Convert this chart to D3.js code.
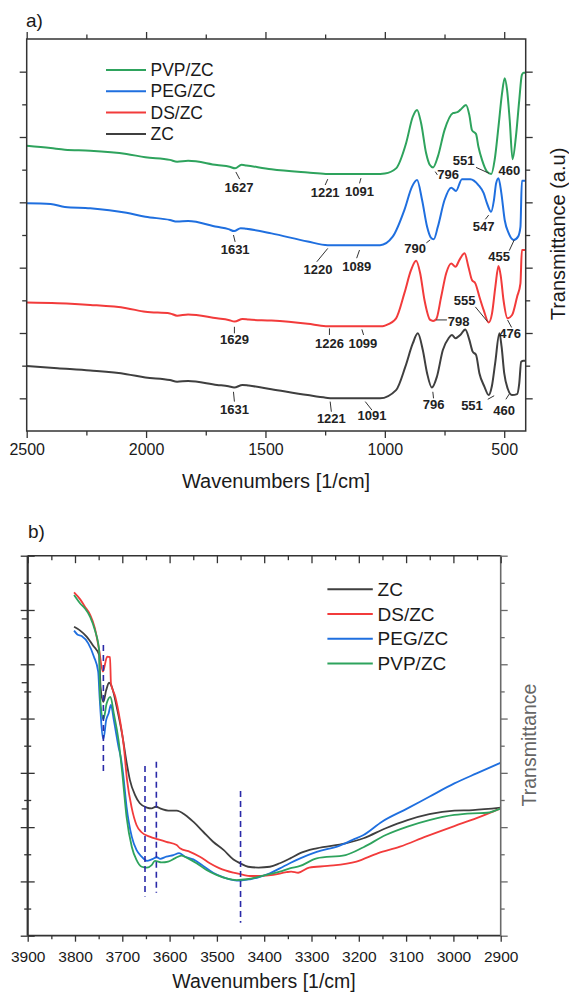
<!DOCTYPE html>
<html lang="en">
<head>
<meta charset="UTF-8">
<title>FTIR spectra</title>
<script src="https://cdn.jsdelivr.net/npm/d3@7"></script>
<style>
  body { margin: 0; background: #fff; }
  svg { font-family: "Liberation Sans", Arial, sans-serif; }
</style>
</head>
<body>
<svg width="569" height="994"></svg>
<script>
// ---- panel a: [wavenumber, transmittance (a.u., stacked)] ----
const pvpA = [[2500,8.73],[2400,8.66],[2340,8.61],[2234,8.58],[2082,8.48],[2003,8.38],[1900,8.30],[1870,8.24],[1824,8.27],[1703,8.14],[1650,8.09],[1627,8.04],[1600,8.15],[1580,8.13],[1475,8.01],[1323,7.91],[1247,7.87],[1019,7.87],[1000,7.88],[953,8.04],[911,8.81],[883,9.62],[865,9.83],[848,9.42],[827,8.50],[812,8.15],[798,8.07],[778,8.40],[750,9.21],[715,9.73],[696,9.76],[684,9.83],[660,9.98],[646,9.67],[635,9.21],[618,9.09],[608,8.70],[593,8.30],[572,7.94],[554,7.87],[540,8.30],[524,9.32],[509,10.34],[498,10.80],[488,10.44],[477,9.52],[465,8.32],[451,9.01],[437,10.13],[426,10.90],[419,10.97],[410,10.97]];
const pegA = [[2500,6.97],[2400,6.95],[2340,6.86],[2234,6.82],[2082,6.68],[2003,6.56],[1900,6.46],[1870,6.41],[1824,6.43],[1703,6.25],[1655,6.18],[1631,6.12],[1604,6.21],[1580,6.19],[1475,6.05],[1323,5.80],[1239,5.69],[1020,5.69],[967,5.95],[918,6.77],[886,7.48],[865,7.68],[844,7.07],[823,6.25],[808,5.93],[795,5.87],[778,6.25],[750,7.07],[722,7.45],[702,7.35],[677,7.71],[642,7.71],[608,7.53],[586,7.28],[572,6.97],[555,6.71],[543,7.07],[534,7.58],[524,7.74],[512,7.28],[498,6.46],[481,6.05],[460,5.85],[442,5.95],[432,6.25],[426,7.66],[410,7.66]];
const dsA = [[2500,3.93],[2371,3.91],[2234,3.86],[2082,3.76],[2003,3.65],[1900,3.60],[1870,3.53],[1824,3.57],[1703,3.45],[1655,3.40],[1629,3.35],[1596,3.43],[1570,3.41],[1475,3.38],[1323,3.28],[1247,3.21],[1010,3.21],[995,3.24],[953,3.45],[918,4.22],[890,4.93],[869,5.21],[852,4.83],[834,4.01],[810,3.40],[798,3.37],[785,3.42],[764,4.11],[743,4.83],[722,5.13],[704,5.03],[688,5.23],[666,5.44],[650,5.03],[635,4.62],[621,4.52],[604,4.11],[586,3.70],[565,3.32],[551,3.60],[537,4.42],[524,5.05],[514,4.72],[503,4.01],[486,3.45],[467,3.55],[446,4.11],[432,4.52],[426,5.54],[410,5.54]];
const zcA = [[2500,1.99],[2371,1.92],[2234,1.85],[2082,1.74],[2003,1.64],[1900,1.56],[1870,1.51],[1824,1.53],[1703,1.41],[1655,1.37],[1631,1.33],[1596,1.41],[1570,1.39],[1475,1.28],[1323,1.10],[1247,1.02],[1221,1.00],[1020,1.00],[953,1.25],[914,1.97],[883,2.68],[862,2.99],[841,2.48],[823,1.77],[803,1.33],[782,1.66],[757,2.48],[733,2.84],[719,2.94],[704,2.84],[684,2.94],[663,3.11],[646,2.79],[632,2.43],[618,2.33],[604,1.77],[583,1.36],[565,1.10],[552,1.36],[538,2.07],[520,2.99],[511,2.58],[500,1.77],[486,1.31],[467,1.10],[446,1.13],[437,1.46],[429,2.12],[419,2.15],[410,2.15]];

// peak labels of panel a: text, label position, leader line [wn1, t1, wn2, t2]
const peaksA = [
  {t: "1627", wn: 1611, v: 7.46, line: [1624, 7.93, 1608, 7.71]},
  {t: "1221", wn: 1250, v: 7.29, line: [1239, 7.71, 1250, 7.53]},
  {t: "1091", wn: 1106, v: 7.33, line: [1100, 7.74, 1106, 7.58]},
  {t: "796",  wn: 735,  v: 7.84, line: [789, 7.94, 780, 7.84]},
  {t: "551",  wn: 670,  v: 8.27, line: [618, 8.07, 564, 7.89]},
  {t: "460",  wn: 478,  v: 7.96, line: null},
  {t: "1631", wn: 1627, v: 5.56, line: [1634, 6.00, 1627, 5.79]},
  {t: "1220", wn: 1280, v: 4.95, line: [1239, 5.59, 1285, 5.18]},
  {t: "1089", wn: 1118, v: 5.03, line: [1106, 5.54, 1118, 5.29]},
  {t: "790",  wn: 873,  v: 5.60, line: [810, 5.85, 826, 5.76]},
  {t: "547",  wn: 586,  v: 6.25, line: [565, 6.61, 579, 6.48]},
  {t: "455",  wn: 521,  v: 5.34, line: [458, 5.85, 479, 5.52]},
  {t: "1629", wn: 1630, v: 2.81, line: [1630, 3.19, 1630, 2.99]},
  {t: "1226", wn: 1232, v: 2.69, line: [1232, 3.14, 1232, 2.94]},
  {t: "1099", wn: 1092, v: 2.69, line: [1096, 3.11, 1089, 2.94]},
  {t: "798",  wn: 691,  v: 3.35, line: [785, 3.40, 740, 3.40]},
  {t: "555",  wn: 666,  v: 4.01, line: [621, 3.80, 570, 3.35]},
  {t: "476",  wn: 475,  v: 2.97, line: [486, 3.40, 469, 3.17]},
  {t: "1631", wn: 1630, v: 0.66, line: [1634, 1.20, 1630, 0.90]},
  {t: "1221", wn: 1224, v: 0.39, line: [1229, 0.90, 1224, 0.59]},
  {t: "1091", wn: 1054, v: 0.46, line: [1082, 0.90, 1054, 0.64]},
  {t: "796",  wn: 796,  v: 0.82, line: [799, 1.20, 796, 1.00]},
  {t: "551",  wn: 635,  v: 0.77, line: [569, 0.97, 542, 1.08]},
  {t: "460",  wn: 500,  v: 0.64, line: [493, 0.97, 479, 1.13]}
];

// ---- panel b ----
const zcB = [[3802,11.38],[3789,11.24],[3775,11.01],[3761,10.67],[3749,10.34],[3746,9.17],[3740,8.62],[3734,9.05],[3728,9.32],[3721,9.11],[3712,8.44],[3700,7.39],[3690,6.29],[3684,5.74],[3673,5.18],[3663,4.88],[3648,4.72],[3638,4.69],[3629,4.75],[3617,4.67],[3603,4.61],[3585,4.61],[3567,4.45],[3550,4.20],[3529,3.83],[3508,3.46],[3486,3.16],[3465,2.81],[3451,2.67],[3434,2.54],[3412,2.51],[3388,2.54],[3367,2.67],[3345,2.85],[3324,3.04],[3289,3.22],[3228,3.40],[3190,3.59],[3143,3.96],[3097,4.26],[3051,4.48],[2998,4.61],[2959,4.63],[2900,4.72]];
const dsB = [[3802,12.65],[3789,12.39],[3779,12.12],[3768,11.82],[3758,11.33],[3749,10.53],[3741,9.73],[3732,10.28],[3726,10.26],[3724,9.30],[3715,8.81],[3705,7.95],[3697,7.00],[3690,5.74],[3680,4.70],[3670,4.08],[3660,3.82],[3642,3.65],[3624,3.55],[3607,3.46],[3585,3.34],[3578,3.22],[3557,3.09],[3536,2.91],[3515,2.67],[3494,2.48],[3465,2.32],[3444,2.24],[3430,2.20],[3409,2.20],[3381,2.24],[3353,2.34],[3343,2.36],[3328,2.32],[3305,2.51],[3266,2.57],[3205,2.73],[3159,3.04],[3113,3.28],[3059,3.65],[2998,4.04],[2951,4.33],[2900,4.69]];
const pegB = [[3802,11.24],[3795,11.10],[3786,11.04],[3772,10.77],[3760,10.28],[3751,9.73],[3748,8.80],[3740,7.24],[3734,7.95],[3729,8.19],[3724,8.50],[3718,7.95],[3708,6.96],[3703,6.55],[3698,5.92],[3691,4.75],[3680,3.65],[3670,3.16],[3659,2.91],[3648,2.76],[3638,2.81],[3627,2.89],[3620,2.83],[3607,2.91],[3592,2.97],[3580,3.04],[3567,2.91],[3550,2.81],[3529,2.57],[3508,2.32],[3486,2.15],[3465,2.05],[3451,2.03],[3430,2.08],[3409,2.17],[3388,2.30],[3367,2.48],[3346,2.67],[3324,2.85],[3289,3.09],[3243,3.30],[3213,3.53],[3190,3.71],[3151,4.20],[3097,4.69],[3051,5.12],[2998,5.61],[2951,5.98],[2900,6.37]];
const pvpB = [[3802,12.55],[3789,12.24],[3779,12.06],[3768,11.75],[3758,11.26],[3749,10.53],[3747,8.80],[3740,7.97],[3733,8.56],[3725,8.80],[3718,8.19],[3708,7.21],[3700,5.98],[3691,4.38],[3680,3.28],[3670,2.79],[3659,2.54],[3648,2.51],[3638,2.60],[3631,2.76],[3617,2.70],[3603,2.73],[3589,2.85],[3575,2.95],[3561,2.85],[3543,2.67],[3522,2.42],[3501,2.24],[3480,2.11],[3458,2.05],[3437,2.08],[3416,2.15],[3395,2.24],[3367,2.36],[3346,2.48],[3324,2.57],[3289,2.85],[3228,2.97],[3190,3.26],[3143,3.71],[3097,4.02],[3051,4.26],[2998,4.45],[2959,4.51],[2929,4.53],[2900,4.69]];

// dashed marker lines of panel b: [wavenumber, from, to]
const markersB = [[3740, 10.71, 5.92], [3652, 6.25, 1.44], [3628, 6.41, 1.58], [3450, 5.33, 0.48]];

const colors = {"ZC": "#3f3f3f", "DS/ZC": "#f23b3b", "PEG/ZC": "#1f6fdf", "PVP/ZC": "#2ea35d"};
const seriesA = [["PVP/ZC", pvpA], ["PEG/ZC", pegA], ["DS/ZC", dsA], ["ZC", zcA]];
const seriesB = [["ZC", zcB], ["DS/ZC", dsB], ["PEG/ZC", pegB], ["PVP/ZC", pvpB]];

const svg = d3.select("svg");

// helper: a set of unlabeled ticks
function ticks(axisFn, scale, values, size, transform, color = "#333") {
  svg.append("g")
    .attr("transform", transform)
    .call(axisFn(scale).tickValues(values).tickSize(size).tickSizeOuter(0).tickFormat(""))
    .call(g => g.select(".domain").remove())
    .selectAll("line").attr("stroke", color).attr("stroke-width", 1.3);
}

// =============== panel a ===============
const A = {left: 26.7, right: 525.7, top: 39, bottom: 431};
const xa = d3.scaleLinear().domain([2500, 410]).range([A.left, A.right]);
const ya = d3.scaleLinear().domain([0, 12]).range([A.bottom, A.top]);

const xaMajor = [2500, 2000, 1500, 1000, 500];
const xaMinor = [2250, 1750, 1250, 750];
const yaMajor = [1, 3, 5, 7, 9, 11];
const yaMinor = [2, 4, 6, 8, 10];

const lineA = d3.line().x(d => xa(d[0])).y(d => ya(d[1])).curve(d3.curveMonotoneX);

seriesA.forEach(([name, data]) => {
  svg.append("path").datum(data)
    .attr("d", lineA)
    .attr("fill", "none")
    .attr("stroke", colors[name])
    .attr("stroke-width", 2)
    .attr("stroke-linejoin", "round");
});

// peak labels
const pk = svg.append("g");
peaksA.forEach(p => {
  if (p.line) {
    pk.append("line")
      .attr("x1", xa(p.line[0])).attr("y1", ya(p.line[1]))
      .attr("x2", xa(p.line[2])).attr("y2", ya(p.line[3]))
      .attr("stroke", "#333").attr("stroke-width", 1);
  }
  pk.append("text")
    .attr("x", xa(p.wn)).attr("y", ya(p.v))
    .attr("text-anchor", "middle").attr("dominant-baseline", "central")
    .attr("font-size", 13).attr("font-weight", "bold").attr("fill", "#222")
    .text(p.t);
});

// frame and ticks
svg.append("rect")
  .attr("x", A.left).attr("y", A.top)
  .attr("width", A.right - A.left).attr("height", A.bottom - A.top)
  .attr("fill", "none").attr("stroke", "#333").attr("stroke-width", 1.5);

ticks(d3.axisTop, xa, xaMajor, 7, `translate(0,${A.top})`);
ticks(d3.axisTop, xa, xaMinor, 4.5, `translate(0,${A.top})`);
ticks(d3.axisBottom, xa, xaMinor, 4.5, `translate(0,${A.bottom})`);
ticks(d3.axisLeft, ya, yaMajor, 7, `translate(${A.left},0)`);
ticks(d3.axisLeft, ya, yaMinor, 4.5, `translate(${A.left},0)`);
ticks(d3.axisRight, ya, yaMajor, 7, `translate(${A.right},0)`);
ticks(d3.axisRight, ya, yaMinor, 4.5, `translate(${A.right},0)`);

svg.append("g")
  .attr("transform", `translate(0,${A.bottom})`)
  .call(d3.axisBottom(xa).tickValues(xaMajor).tickFormat(d3.format("d"))
    .tickSize(7).tickSizeOuter(0).tickPadding(6))
  .call(g => g.select(".domain").remove())
  .call(g => g.selectAll("line").attr("stroke", "#333").attr("stroke-width", 1.3))
  .call(g => g.selectAll("text").attr("font-size", 16).attr("fill", "#1a1a1a")
    .attr("font-family", "Liberation Sans, Arial, sans-serif"));

svg.append("text")
  .attr("x", 276).attr("y", 488)
  .attr("text-anchor", "middle").attr("font-size", 20).attr("fill", "#1a1a1a")
  .text("Wavenumbers [1/cm]");

svg.append("text")
  .attr("transform", `translate(565,234) rotate(-90)`)
  .attr("text-anchor", "middle").attr("font-size", 20).attr("fill", "#1a1a1a")
  .text("Transmittance (a.u)");

svg.append("text")
  .attr("x", 26).attr("y", 27)
  .attr("font-size", 19).attr("fill", "#1a1a1a")
  .text("a)");

// legend a
const legA = svg.append("g").attr("transform", "translate(106,70)");
seriesA.forEach(([name], i) => {
  const row = legA.append("g").attr("transform", `translate(0,${i * 21.3})`);
  row.append("line").attr("x1", 0).attr("x2", 40)
    .attr("stroke", colors[name]).attr("stroke-width", 2);
  row.append("text").attr("x", 44.5).attr("dominant-baseline", "central")
    .attr("font-size", 17.5).attr("fill", "#1a1a1a").text(name);
});

// =============== panel b ===============
const B = {left: 27.7, right: 500.7, top: 555.7, bottom: 935.7};
const xb = d3.scaleLinear().domain([3900, 2900]).range([B.left, B.right]);
const yb = d3.scaleLinear().domain([0, 14]).range([B.bottom, B.top]);

const xbMajor = d3.range(3900, 2899, -100);
const xbMinor = d3.range(3850, 2900, -100);
const ybMajor = [0, 2, 4, 6, 8, 10, 12, 14];
const ybMinor = [1, 3, 5, 7, 9, 11, 13];
const ybLayer2 = [11.69, 9.34, 4.69];

const lineB = d3.line().x(d => xb(d[0])).y(d => yb(d[1])).curve(d3.curveMonotoneX);

seriesB.forEach(([name, data]) => {
  svg.append("path").datum(data)
    .attr("d", lineB)
    .attr("fill", "none")
    .attr("stroke", colors[name])
    .attr("stroke-width", 1.8)
    .attr("stroke-linejoin", "round");
});

svg.append("g").selectAll("line")
  .data(markersB)
  .join("line")
    .attr("x1", d => xb(d[0])).attr("x2", d => xb(d[0]))
    .attr("y1", d => yb(d[1])).attr("y2", d => yb(d[2]))
    .attr("stroke", "#2a2aa8").attr("stroke-width", 1.6)
    .attr("stroke-dasharray", "6,4");

// frame: dark left/top/bottom, grey right
const frameB = svg.append("g").attr("fill", "none");
frameB.append("line").attr("x1", B.left).attr("x2", B.right).attr("y1", B.top).attr("y2", B.top)
  .attr("stroke", "#333").attr("stroke-width", 1.6);
frameB.append("line").attr("x1", B.left).attr("x2", B.right).attr("y1", B.bottom).attr("y2", B.bottom)
  .attr("stroke", "#333").attr("stroke-width", 1.8);
frameB.append("line").attr("x1", B.left).attr("x2", B.left).attr("y1", B.top).attr("y2", B.bottom)
  .attr("stroke", "#333").attr("stroke-width", 2.2);
frameB.append("line").attr("x1", B.right).attr("x2", B.right).attr("y1", B.top).attr("y2", B.bottom)
  .attr("stroke", "#6a6a6a").attr("stroke-width", 1.6);

ticks(d3.axisBottom, xb, xbMajor, 7.5, `translate(0,${B.top})`);
ticks(d3.axisBottom, xb, xbMinor, 4.5, `translate(0,${B.top})`);
ticks(d3.axisBottom, xb, xbMinor, 3.5, `translate(0,${B.bottom})`);
ticks(d3.axisLeft, yb, ybMajor, 7, `translate(${B.left},0)`);
ticks(d3.axisRight, yb, ybMajor, 7, `translate(${B.left},0)`);
ticks(d3.axisLeft, yb, ybMinor, 3.5, `translate(${B.left},0)`);
ticks(d3.axisRight, yb, ybMinor, 3.5, `translate(${B.left},0)`);
ticks(d3.axisLeft, yb, ybLayer2, 6, `translate(${B.left},0)`);
ticks(d3.axisRight, yb, ybMajor, 7, `translate(${B.right},0)`, "#6a6a6a");
ticks(d3.axisRight, yb, ybMinor, 4, `translate(${B.right},0)`, "#6a6a6a");

svg.append("g")
  .attr("transform", `translate(0,${B.bottom})`)
  .call(d3.axisBottom(xb).tickValues(xbMajor).tickFormat(d3.format("d"))
    .tickSize(6).tickSizeOuter(0).tickPadding(9))
  .call(g => g.select(".domain").remove())
  .call(g => g.selectAll("line").attr("stroke", "#333").attr("stroke-width", 1.3))
  .call(g => g.selectAll("text").attr("font-size", 15.5).attr("fill", "#1a1a1a")
    .attr("font-family", "Liberation Sans, Arial, sans-serif"));

svg.append("text")
  .attr("x", 264).attr("y", 988)
  .attr("text-anchor", "middle").attr("font-size", 19.5).attr("fill", "#1a1a1a")
  .text("Wavenumbers [1/cm]");

svg.append("text")
  .attr("transform", `translate(536,745) rotate(-90)`)
  .attr("text-anchor", "middle").attr("font-size", 19.5).attr("fill", "#666")
  .text("Transmittance");

svg.append("text")
  .attr("x", 28).attr("y", 538)
  .attr("font-size", 19).attr("fill", "#1a1a1a")
  .text("b)");

// legend b
const legB = svg.append("g").attr("transform", "translate(327.4,589.3)");
seriesB.forEach(([name], i) => {
  const row = legB.append("g").attr("transform", `translate(0,${i * 24.7})`);
  row.append("line").attr("x1", 0).attr("x2", 45.4)
    .attr("stroke", colors[name]).attr("stroke-width", 2);
  row.append("text").attr("x", 50.2).attr("dominant-baseline", "central")
    .attr("font-size", 19).attr("fill", "#1a1a1a").text(name);
});
</script>
</body>
</html>
